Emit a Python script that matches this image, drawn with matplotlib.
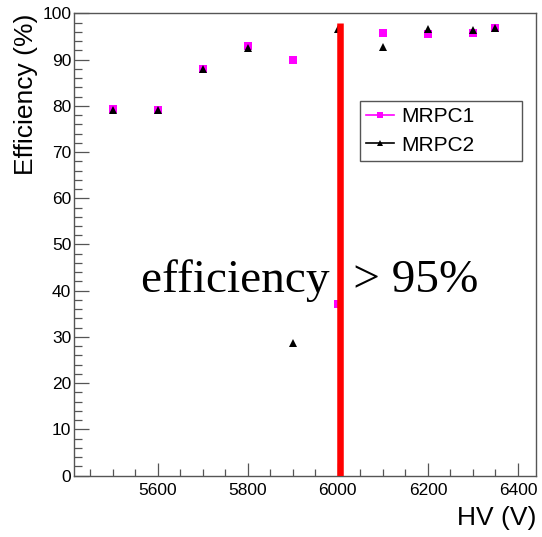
import matplotlib
matplotlib.use("Agg")
import matplotlib.pyplot as plt
from matplotlib.ticker import MultipleLocator
from matplotlib.lines import Line2D

hv = [5500, 5600, 5700, 5800, 5900, 6000, 6100, 6200, 6300, 6350]
mrpc1 = [79.3, 79.1, 87.9, 93.0, 89.8, 37.1, 95.8, 95.6, 95.8, 96.8]
mrpc2 = [79.1, 79.0, 88.0, 92.6, 28.8, 96.7, 92.8, 96.7, 96.4, 96.9]
line_x = 6005
line_top = 98
label_text = "efficiency  > 95%"

fig = plt.figure(figsize=(5.42, 5.37), dpi=100)
ax = fig.add_axes([74/542, 1-475.7/537, (536-74)/542, (475.7-13.3)/537])

frame_col = "#555555"
ax.plot(hv, mrpc1, linestyle="none", marker="s", markersize=5.2, color="#ff00ff",
        markeredgewidth=0, zorder=3)
ax.plot(hv, mrpc2, linestyle="none", marker="^", markersize=6, color="black",
        markeredgewidth=0, zorder=4)
ax.plot([line_x, line_x], [0, line_top], color="#ff0000", linewidth=4.7, zorder=5,
        solid_capstyle="butt")

ax.text(5563, 39.8, label_text, fontsize=34, family="Liberation Serif",
        ha="left", va="baseline", zorder=2)

ax.set_xlim(5414, 6440)
ax.set_ylim(0, 100)
ax.xaxis.set_major_locator(MultipleLocator(200))
ax.xaxis.set_minor_locator(MultipleLocator(50))
ax.yaxis.set_major_locator(MultipleLocator(10))
ax.yaxis.set_minor_locator(MultipleLocator(2))
ax.tick_params(axis="both", which="both", direction="in", color=frame_col,
               top=False, right=False, labelsize=12.5, labelcolor="black")
ax.tick_params(axis="x", which="major", length=9.6, width=0.9, pad=5)
ax.tick_params(axis="x", which="minor", length=4.8, width=0.9)
ax.tick_params(axis="y", which="major", length=10.8, width=0.9, pad=2)
ax.tick_params(axis="y", which="minor", length=5.5, width=0.9)
for lab in ax.get_xticklabels() + ax.get_yticklabels():
    lab.set_family("Liberation Sans")
for s in ax.spines.values():
    s.set_color(frame_col)
    s.set_linewidth(1.0)

ax.set_xlabel("HV (V)", fontsize=19, family="Liberation Sans", loc="right",
              labelpad=6)
ax.set_ylabel("Efficiency (%)", fontsize=19, family="Liberation Sans", loc="top",
              labelpad=3)

h1 = Line2D([], [], color="#ff00ff", marker="s", markersize=4.5, linewidth=1.2,
            markeredgewidth=0)
h2 = Line2D([], [], color="black", marker="^", markersize=5, linewidth=1.2,
            markeredgewidth=0)
leg = ax.legend([h1, h2], ["MRPC1", "MRPC2"], loc="upper left",
                bbox_to_anchor=(0.619, 0.678, 0.351, 0.132), mode="expand",
                fancybox=False, framealpha=1,
                edgecolor=frame_col, prop={"family": "Liberation Sans", "size": 15},
                handlelength=1.35, handletextpad=0.34, borderpad=0.3,
                labelspacing=0.44, borderaxespad=0)
leg.get_frame().set_linewidth(1.0)

fig.savefig("out.png", dpi=100)
